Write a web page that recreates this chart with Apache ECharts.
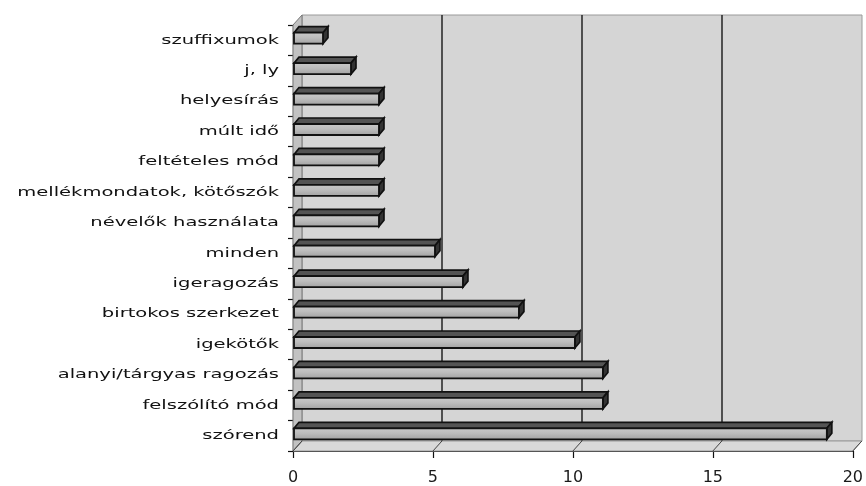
<!DOCTYPE html>
<html>
<head>
<meta charset="utf-8">
<script src="https://cdn.jsdelivr.net/npm/echarts@6/dist/echarts.min.js"></script>
<style>
  html, body { margin: 0; padding: 0; background: #ffffff; }
  #chart { width: 866px; height: 486px; }
</style>
</head>
<body>
<div id="chart"></div>
<script>
// Error types and how often each occurred
const categories = [
  'szuffixumok',
  'j, ly',
  'helyesírás',
  'múlt idő',
  'feltételes mód',
  'mellékmondatok, kötőszók',
  'névelők használata',
  'minden',
  'igeragozás',
  'birtokos szerkezet',
  'igekötők',
  'alanyi/tárgyas ragozás',
  'felszólító mód',
  'szórend'
];
const counts = [1, 2, 3, 3, 3, 3, 3, 5, 6, 8, 10, 11, 11, 19];
const xTicks = [0, 5, 10, 15, 20];

// depth of the box (front plane -> back wall) and of each bar
const DX = 9, DY = 10;
const BX = 5, BY = 6;
const BAR_H = 11;

const chart = echarts.init(document.getElementById('chart'), null, { renderer: 'canvas' });

// floor, side wall and floor diagonals of the 3D box
function renderFrame(params, api) {
  const cs = params.coordSys;
  const v = api.value(0);
  const p = api.coord([v, categories.length - 1]);
  const bottom = cs.y + cs.height;
  const children = [];
  if (params.dataIndex === 0) {
    children.push({
      type: 'polygon',
      shape: { points: [[cs.x, bottom], [cs.x + cs.width, bottom], [cs.x + cs.width + DX, bottom - DY], [cs.x + DX, bottom - DY]] },
      style: { fill: '#d9d9d9', stroke: '#9a9a9a', lineWidth: 1 }
    });
    children.push({
      type: 'polygon',
      shape: { points: [[cs.x, cs.y], [cs.x + DX, cs.y - DY], [cs.x + DX, bottom - DY], [cs.x, bottom]] },
      style: { fill: '#c2c2c2', stroke: '#777', lineWidth: 1 }
    });
  }
  children.push({
    type: 'line',
    shape: { x1: p[0], y1: bottom, x2: p[0] + DX, y2: bottom - DY },
    style: { stroke: '#444', lineWidth: 1 }
  });
  return { type: 'group', children: children };
}

// one 3D bar: front face, top face and end cap
function renderBar(params, api) {
  const v = api.value(0);
  const c = api.value(1);
  const p0 = api.coord([0, c]);
  const p1 = api.coord([v, c]);
  const x0 = p0[0] + 1;
  const x1 = p1[0] + 2;
  const yc = p0[1] - 2;
  const yt = yc - BAR_H / 2;
  const yb = yc + BAR_H / 2;
  return {
    type: 'group',
    children: [
      {
        type: 'polygon',
        shape: { points: [[x0, yt], [x0 + BX, yt - BY], [x1 + BX, yt - BY], [x1, yt]] },
        style: { fill: '#545454', stroke: '#111', lineWidth: 1.7 }
      },
      {
        type: 'polygon',
        shape: { points: [[x1, yt], [x1 + BX, yt - BY], [x1 + BX, yb - BY], [x1, yb]] },
        style: { fill: '#333', stroke: '#111', lineWidth: 1.7 }
      },
      {
        type: 'rect',
        shape: { x: x0, y: yt, width: x1 - x0, height: BAR_H },
        style: {
          fill: new echarts.graphic.LinearGradient(0, 0, 0, 1, [
            { offset: 0, color: '#cbcbcb' },
            { offset: 0.45, color: '#bdbdbd' },
            { offset: 1, color: '#a0a0a0' }
          ]),
          stroke: '#111', lineWidth: 1.8
        }
      }
    ]
  };
}

// category names, widened to the spacing of the printed chart
function renderLabel(params, api) {
  const c = api.value(1);
  const p = api.coord([0, c]);
  return {
    type: 'text',
    x: p[0] - 14,
    y: p[1],
    scaleX: 1.5,
    style: {
      text: categories[c],
      fill: '#111',
      font: '13px "DejaVu Sans"',
      align: 'right',
      verticalAlign: 'middle'
    }
  };
}

chart.setOption({
  animation: false,
  backgroundColor: '#ffffff',
  grid: [
    { left: 293 + DX, right: 13 - DX, top: 25 - DY, bottom: 35 + DY, show: true,
      backgroundColor: '#d5d5d5', borderColor: '#9a9a9a', borderWidth: 1 },
    { left: 293, right: 13, top: 25, bottom: 35 }
  ],
  xAxis: [
    { gridIndex: 0, type: 'value', min: 0, max: 20, interval: 5,
      axisLine: { show: false }, axisTick: { show: false }, axisLabel: { show: false },
      splitLine: { show: true, showMinLine: false, showMaxLine: false,
        lineStyle: { color: '#2e2e2e', width: 1.6 } } },
    { gridIndex: 1, type: 'value', min: 0, max: 20, interval: 5,
      axisLine: { show: true, onZero: false, lineStyle: { color: '#111', width: 1.2 } },
      axisTick: { show: true, length: 7, lineStyle: { color: '#111', width: 1.2 } },
      axisLabel: { margin: 19, color: '#1a1a1a', fontFamily: 'DejaVu Sans', fontSize: 16 },
      splitLine: { show: false } }
  ],
  yAxis: [
    { gridIndex: 0, type: 'category', data: categories, inverse: true, show: false },
    { gridIndex: 1, type: 'category', data: categories, inverse: true,
      axisLine: { show: true, lineStyle: { color: '#111', width: 1.2 } },
      axisTick: { show: true, length: 5, lineStyle: { color: '#111', width: 1.2 } },
      axisLabel: { show: false },
      splitLine: { show: false } }
  ],
  series: [
    {
      type: 'custom', name: 'frame', xAxisIndex: 1, yAxisIndex: 1, z: 1, clip: false, silent: true,
      data: xTicks.map(function (t) { return [t, 0]; }),
      encode: { x: 0, y: 1 },
      renderItem: renderFrame
    },
    {
      type: 'custom', name: 'hibák', xAxisIndex: 1, yAxisIndex: 1, z: 3, clip: false,
      data: counts.map(function (v, i) { return [v, i]; }),
      encode: { x: 0, y: 1 },
      renderItem: renderBar
    },
    {
      type: 'custom', name: 'labels', xAxisIndex: 1, yAxisIndex: 1, z: 4, clip: false, silent: true,
      data: categories.map(function (c, i) { return [0, i]; }),
      encode: { x: 0, y: 1 },
      renderItem: renderLabel
    }
  ]
});
</script>
</body>
</html>
